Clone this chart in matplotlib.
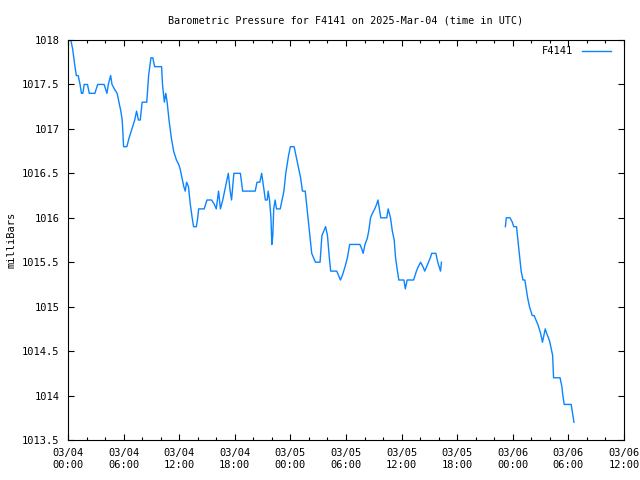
import matplotlib
matplotlib.use("Agg")
import matplotlib.pyplot as plt
import matplotlib.dates as mdates
import numpy as np
import pandas as pd

# hours after 2025-03-04 00:00 UTC, pressure in mb (None = no data)
hours = [0.3, 0.5, 0.75, 0.9, 1.1, 1.3, 1.45, 1.6, 1.75, 2.1, 2.3, 2.9, 3.2, 3.9,
         4.2, 4.35, 4.6, 4.75, 5.0, 5.3, 5.5, 5.7, 5.85, 6.0, 6.35, 6.6, 6.9, 7.2,
         7.4, 7.6, 7.8, 8.0, 8.5, 8.7, 8.95, 9.15, 9.35, 10.1, 10.2, 10.4, 10.55,
         10.7, 10.9, 11.15, 11.4, 11.7, 11.95, 12.1, 12.3, 12.5, 12.65, 12.8, 13.0,
         13.2, 13.4, 13.55, 13.85, 14.0, 14.1, 14.7, 15.0, 15.5, 15.8, 16.0, 16.25,
         16.45, 16.7, 17.0, 17.3, 17.5, 17.65, 17.9, 18.6, 18.85, 20.2, 20.4, 20.7,
         20.9, 21.1, 21.3, 21.5, 21.6, 21.75, 21.9, 22.0, 22.1, 22.2, 22.35, 22.5,
         22.9, 23.1, 23.3, 23.5, 23.65, 23.8, 24.0, 24.4, 24.7, 24.9, 25.1, 25.3,
         25.6, 25.75, 25.9, 26.1, 26.3, 26.5, 26.7, 27.2, 27.4, 27.6, 27.8, 28.0,
         28.2, 28.35, 29.0, 29.2, 29.4, 29.6, 29.9, 30.15, 30.4, 31.5, 31.7, 31.85,
         32.05, 32.3, 32.45, 32.65, 32.85, 33.1, 33.3, 33.45, 33.6, 33.75, 34.4,
         34.55, 34.8, 35.0, 35.2, 35.35, 35.55, 35.7, 36.25, 36.4, 36.6, 37.3,
         37.45, 37.6, 37.8, 38.05, 38.3, 38.5, 38.7, 38.9, 39.1, 39.25, 39.7, 39.9,
         40.05, 40.2, 40.3, 44.0,
         47.2, 47.3, 47.7, 47.95, 48.1, 48.4, 48.5, 48.65, 48.8, 48.9, 49.1, 49.3,
         49.45, 49.6, 49.8, 49.95, 50.1, 50.3, 50.5, 50.7, 50.85, 51.0, 51.2, 51.3,
         51.5, 51.65, 51.85, 52.0, 52.1, 52.3, 52.4, 53.1, 53.3, 53.4, 53.55, 54.3,
         54.45, 54.6]
pressure = [1018.0, 1017.9, 1017.7, 1017.6, 1017.6, 1017.5, 1017.4, 1017.4, 1017.5,
            1017.5, 1017.4, 1017.4, 1017.5, 1017.5, 1017.4, 1017.5, 1017.6, 1017.5,
            1017.45, 1017.4, 1017.3, 1017.2, 1017.1, 1016.8, 1016.8, 1016.9, 1017.0,
            1017.1, 1017.2, 1017.1, 1017.1, 1017.3, 1017.3, 1017.6, 1017.8, 1017.8,
            1017.7, 1017.7, 1017.5, 1017.3, 1017.4, 1017.3, 1017.1, 1016.9, 1016.75,
            1016.65, 1016.6, 1016.55, 1016.45, 1016.35, 1016.3, 1016.4, 1016.35,
            1016.15, 1016.0, 1015.9, 1015.9, 1016.0, 1016.1, 1016.1, 1016.2, 1016.2,
            1016.15, 1016.1, 1016.3, 1016.1, 1016.2, 1016.35, 1016.5, 1016.3, 1016.2,
            1016.5, 1016.5, 1016.3, 1016.3, 1016.4, 1016.4, 1016.5, 1016.35, 1016.2,
            1016.2, 1016.3, 1016.2, 1016.0, 1015.7, 1015.8, 1016.1, 1016.2, 1016.1,
            1016.1, 1016.2, 1016.3, 1016.5, 1016.6, 1016.7, 1016.8, 1016.8, 1016.65,
            1016.55, 1016.45, 1016.3, 1016.3, 1016.15, 1016.0, 1015.8, 1015.6,
            1015.55, 1015.5, 1015.5, 1015.8, 1015.85, 1015.9, 1015.8, 1015.55,
            1015.4, 1015.4, 1015.35, 1015.3, 1015.35, 1015.45, 1015.55, 1015.7,
            1015.7, 1015.65, 1015.6, 1015.7, 1015.77, 1015.85, 1016.0, 1016.05,
            1016.1, 1016.15, 1016.2, 1016.1, 1016.0, 1016.0, 1016.1, 1016.0, 1015.85,
            1015.75, 1015.55, 1015.4, 1015.3, 1015.3, 1015.2, 1015.3, 1015.3,
            1015.35, 1015.4, 1015.45, 1015.5, 1015.45, 1015.4, 1015.45, 1015.5,
            1015.55, 1015.6, 1015.6, 1015.5, 1015.45, 1015.4, 1015.5, None,
            1015.9, 1016.0, 1016.0, 1015.95, 1015.9, 1015.9, 1015.8, 1015.65, 1015.5,
            1015.4, 1015.3, 1015.3, 1015.2, 1015.1, 1015.0, 1014.95, 1014.9, 1014.9,
            1014.85, 1014.8, 1014.75, 1014.7, 1014.6, 1014.65, 1014.75, 1014.7,
            1014.65, 1014.6, 1014.55, 1014.45, 1014.2, 1014.2, 1014.1, 1014.0,
            1013.9, 1013.9, 1013.8, 1013.7]

start = pd.Timestamp("2025-03-04 00:00")
end = pd.Timestamp("2025-03-06 12:00")
times = start + pd.to_timedelta(hours, unit="h")
vals = np.array([np.nan if v is None else v for v in pressure], dtype=float)

plt.rcParams['font.family'] = ['DejaVu Sans Mono']
plt.rcParams['font.size'] = 7.5

fig = plt.figure(figsize=(6.4, 4.8), dpi=100)
ax = fig.add_axes([68/640, 40/480, 556/640, 400/480])

ax.plot(times, vals, color='#0a84ff', lw=1.0, label='F4141')

ax.set_xlim(start, end)
ax.set_ylim(1013.5, 1018)
ax.set_yticks(np.arange(1013.5, 1018.01, 0.5))
ax.yaxis.set_major_formatter(matplotlib.ticker.FuncFormatter(lambda v, p: ('%g' % v)))

ax.xaxis.set_major_locator(mdates.HourLocator(byhour=range(0, 24, 6)))
ax.xaxis.set_minor_locator(mdates.HourLocator(byhour=range(0, 24, 2)))
ax.xaxis.set_major_formatter(mdates.DateFormatter('%m/%d\n%H:%M'))

ax.tick_params(which='both', direction='in', top=True, right=True, width=0.8)
ax.tick_params(which='major', length=4.5, pad=6)
ax.tick_params(which='minor', length=2.5)
for s in ax.spines.values():
    s.set_linewidth(0.8)

ax.set_title('Barometric Pressure for F4141 on 2025-Mar-04 (time in UTC)', pad=12, fontsize=7.3)
ax.set_ylabel('milliBars', labelpad=4)

ax.legend(loc='upper right', frameon=False, markerfirst=False, handlelength=2.8,
          bbox_to_anchor=(1 - 6/556, 1 + 1/400), borderaxespad=0.3, handletextpad=0.8)

fig.savefig('out.png', dpi=100)
